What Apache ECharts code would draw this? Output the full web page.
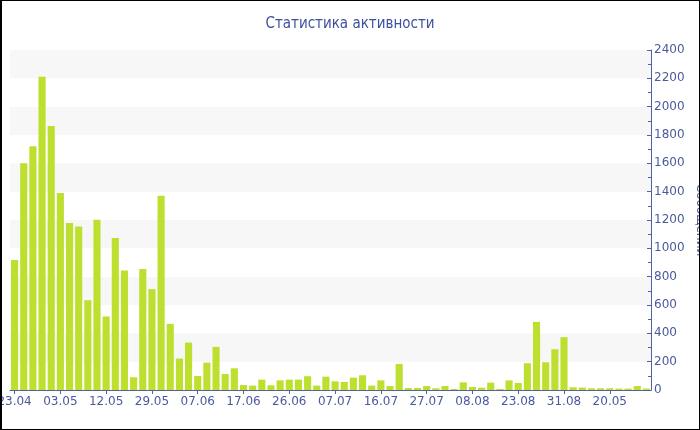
<!DOCTYPE html>
<html>
<head>
<meta charset="utf-8">
<script src="https://cdn.jsdelivr.net/npm/echarts@6/dist/echarts.min.js"></script>
<style>
html,body{margin:0;padding:0;background:#fff;}
#chart{width:700px;height:430px;}
</style>
</head>
<body>
<div id="chart"></div>
<script>
const titleText = 'Статистика активности';
const yAxisName = 'Сообщений';
// category labels (only every 5th date is readable in the reference)
const categories = [
  '23.04','','','','','03.05','','','','','12.05','','','','','29.05','','','','',
  '07.06','','','','','17.06','','','','','26.06','','','','','07.07','','','','',
  '16.07','','','','','27.07','','','','','08.08','','','','','23.08','','','','',
  '31.08','','','','','20.05','','','',''
];
const messages = [
  918,1600,1720,2212,1863,1391,1179,1155,634,1202,519,1073,844,90,854,712,1372,467,222,335,
  99,193,304,113,153,35,31,73,33,68,73,73,97,31,94,61,57,87,104,31,
  68,28,184,14,14,28,12,28,7,54,21,16,52,7,68,50,189,481,196,288,
  373,19,17,12,12,12,10,10,28,10
];
const yTicks = { min: 0, max: 2400, interval: 200 };

const chart = echarts.init(document.getElementById('chart'), null, {renderer:'canvas'});
const axisBlue = '#4f62a6';
const labelBlue = '#4a5a9c';
chart.setOption({
  backgroundColor: '#ffffff',
  animation: false,
  title: {
    text: titleText,
    left: 'center',
    top: 12,
    textStyle: { fontFamily: 'DejaVu Sans Condensed, DejaVu Sans', fontSize: 15, fontWeight: 'normal', color: '#3d4f9f' }
  },
  grid: { left: 10, right: 49, top: 50, bottom: 40, containLabel: false, outerBoundsMode: 'none' },
  xAxis: {
    type: 'category',
    data: categories,
    boundaryGap: true,
    axisLine: { lineStyle: { color: axisBlue, width: 1 } },
    axisTick: { show: true, alignWithLabel: true, interval: 4, length: 4, lineStyle: { color: axisBlue } },
    axisLabel: { interval: 4, color: labelBlue, fontFamily: 'DejaVu Sans', fontSize: 12, margin: 6 },
    splitLine: { show: false }
  },
  yAxis: {
    type: 'value',
    position: 'right',
    min: yTicks.min, max: yTicks.max, interval: yTicks.interval,
    name: yAxisName,
    nameLocation: 'middle',
    nameGap: 43,
    nameRotate: -90,
    nameMoveOverlap: false,
    nameTextStyle: { color: labelBlue, fontFamily: 'DejaVu Sans', fontSize: 12 },
    axisLine: { show: true, lineStyle: { color: axisBlue, width: 1 } },
    axisTick: { show: true, inside: true, length: 4, lineStyle: { color: axisBlue } },
    minorTick: { show: true, splitNumber: 2, length: 3, lineStyle: { color: axisBlue } },
    axisLabel: { color: labelBlue, fontFamily: 'DejaVu Sans', fontSize: 12, margin: 3, formatter: v => String(v) },
    splitLine: { show: false },
    splitArea: { show: true, areaStyle: { color: ['#ffffff', '#f7f7f7'] } }
  },
  series: [{
    type: 'bar',
    data: messages,
    barCategoryGap: '22%',
    itemStyle: { color: '#bde030' }
  }],
  graphic: [
    { type: 'rect', shape: { x: 0, y: 0, width: 2, height: 430 }, style: { fill: '#000' }, z: 100 },
    { type: 'rect', shape: { x: 0, y: 0, width: 700, height: 1 }, style: { fill: '#000' }, z: 100 },
    { type: 'rect', shape: { x: 699, y: 0, width: 1, height: 430 }, style: { fill: '#000' }, z: 100 },
    { type: 'rect', shape: { x: 0, y: 429, width: 700, height: 1 }, style: { fill: '#000' }, z: 100 }
  ]
});
</script>
</body>
</html>
